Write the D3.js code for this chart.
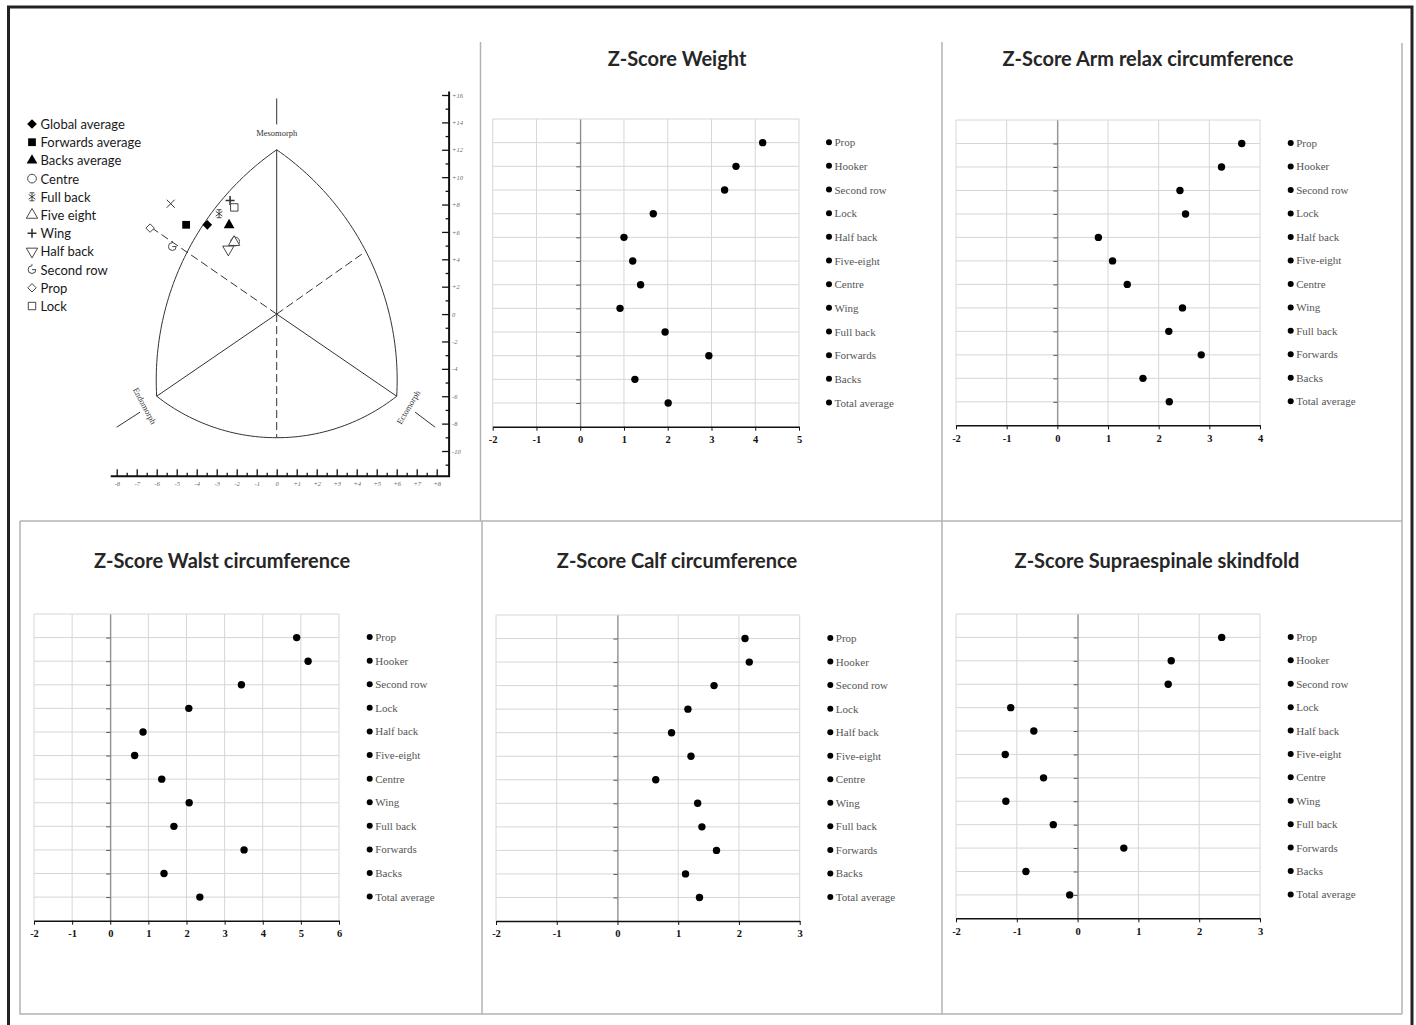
<!DOCTYPE html>
<html>
<head>
<meta charset="utf-8">
<script src="https://cdn.jsdelivr.net/npm/d3@7"></script>
<style>
  body { margin: 0; background: #fff; }
  svg { display: block; }
</style>
</head>
<body>
<script>
// ---------- data ----------
const positions = ["Prop", "Hooker", "Second row", "Lock", "Half back", "Five-eight",
  "Centre", "Wing", "Full back", "Forwards", "Backs", "Total average"];

const weightZ = [4.17, 3.56, 3.30, 1.67, 1.00, 1.20, 1.38, 0.91, 1.94, 2.94, 1.25, 2.01];
const armZ    = [3.64, 3.24, 2.42, 2.53, 0.81, 1.09, 1.38, 2.47, 2.20, 2.84, 1.69, 2.21];
const waistZ  = [4.89, 5.19, 3.44, 2.06, 0.86, 0.64, 1.35, 2.07, 1.67, 3.51, 1.41, 2.35];
const calfZ   = [2.10, 2.17, 1.59, 1.16, 0.89, 1.21, 0.63, 1.32, 1.39, 1.63, 1.12, 1.35];
const supraZ  = [2.37, 1.54, 1.49, -1.10, -0.72, -1.19, -0.56, -1.18, -0.40, 0.76, -0.85, -0.13];

const panelTitles = ["Z-Score Weight", "Z-Score Arm relax circumference", "Z-Score Walst circumference",
  "Z-Score Calf circumference", "Z-Score Supraespinale skindfold"];
const panelDomains = [[-2, 5], [-2, 4], [-2, 6], [-2, 3], [-2, 3]];

// somatochart (x = ecto - endo, y = 2*meso - (endo + ecto))
const somaGroups = ["Global average", "Forwards average", "Backs average", "Centre", "Full back",
  "Five eight", "Wing", "Half back", "Second row", "Prop", "Lock"];
const somaX = [-3.47, -4.53, -2.38, -2.08, -2.88, -2.13, -2.33, -2.42, -5.22, -6.33, -2.12];
const somaY = [6.52, 6.52, 6.50, 5.30, 7.33, 5.25, 8.30, 4.73, 4.93, 6.28, 7.79];
const hookerXY = [-5.30, 8.06];   // drawn with a cross, not listed in the legend
const somaXTicks = d3.range(-8, 9);
const somaYTicks = d3.range(-10, 17, 2);

// ---------- page ----------
const W = 1416, H = 1025;
const svg = d3.select("body").append("svg").attr("width", W).attr("height", H);

// outer frame (open at the bottom) and panel borders
svg.append("path").attr("d", `M8.5,${H} V7 H1412 V${H}`)
  .attr("fill", "none").attr("stroke", "#222").attr("stroke-width", 3);

const border = svg.append("g").attr("stroke", "#b3b3b3").attr("stroke-width", 1.5).attr("fill", "none");
border.append("path").attr("d", "M480.5,42 V521");
border.append("path").attr("d", "M942,42 V1014");
border.append("path").attr("d", "M1402,43 V1014");
border.append("path").attr("d", "M20,521 H1402");
border.append("path").attr("d", "M20,521 V1014 H1402");
border.append("path").attr("d", "M482,521 V1014");

// ---------- dot plot panels ----------
const panelBoxes = [
  { x0: 492.7, x1: 799, y0: 119, y1: 426.7, lx: 829, tx: 677, ty: 58 },
  { x0: 956, x1: 1260, y0: 120, y1: 425.3, lx: 1290.7, tx: 1148, ty: 58 },
  { x0: 34, x1: 339, y0: 614, y1: 920.7, lx: 369.7, tx: 222, ty: 560 },
  { x0: 496, x1: 799.7, y0: 615, y1: 921, lx: 830.3, tx: 677, ty: 560 },
  { x0: 956, x1: 1260, y0: 614, y1: 918.3, lx: 1290.7, tx: 1157, ty: 560 }
];
const panelValues = [weightZ, armZ, waistZ, calfZ, supraZ];

function dotPanel(i) {
  const b = panelBoxes[i], dom = panelDomains[i], vals = panelValues[i];
  const g = svg.append("g");
  const x = d3.scaleLinear().domain(dom).range([b.x0, b.x1]);
  const y = d3.scaleLinear().domain([0, positions.length + 1]).range([b.y0, b.y1]);
  const xt = d3.range(dom[0], dom[1] + 1);

  g.append("text").attr("x", b.tx).attr("y", b.ty).attr("text-anchor", "middle")
    .attr("dominant-baseline", "central")
    .style("font", "bold 20px Lato, 'Open Sans', sans-serif").attr("fill", "#262626")
    .text(panelTitles[i]);

  const grid = g.append("g").attr("stroke", "#d6d6d6").attr("stroke-width", 1);
  grid.selectAll("line.v").data(xt).join("line")
    .attr("x1", d => x(d)).attr("x2", d => x(d)).attr("y1", b.y0).attr("y2", b.y1);
  grid.selectAll("line.h").data(d3.range(0, positions.length + 1)).join("line")
    .attr("x1", b.x0).attr("x2", b.x1).attr("y1", d => y(d)).attr("y2", d => y(d));

  // y axis at zero with small ticks on the left
  const ya = g.append("g").attr("transform", `translate(${x(0)},0)`)
    .call(d3.axisLeft(y).tickValues(d3.range(1, positions.length + 1)).tickSize(4).tickSizeOuter(0).tickFormat(""));
  ya.select(".domain").attr("stroke", "#777");
  ya.selectAll(".tick line").attr("stroke", "#555");

  const xa = g.append("g").attr("transform", `translate(0,${b.y1})`)
    .call(d3.axisBottom(x).tickValues(xt).tickSize(4).tickSizeOuter(0).tickPadding(5).tickFormat(d => String(d)));
  xa.select(".domain").attr("stroke", "#111").attr("stroke-width", 1.5);
  xa.selectAll(".tick line").attr("stroke", "#111");
  xa.selectAll("text").style("font", "bold 10.5px 'Liberation Serif', serif").attr("fill", "#111");

  g.append("g").selectAll("circle").data(vals).join("circle")
    .attr("cx", d => x(d)).attr("cy", (d, k) => y(k + 1)).attr("r", 3.7).attr("fill", "#000");

  const lg = g.append("g").selectAll("g").data(positions).join("g")
    .attr("transform", (d, k) => `translate(${b.lx},${y(k + 1) - 0.5})`);
  lg.append("circle").attr("r", 3).attr("fill", "#000");
  lg.append("text").attr("x", 5.5).attr("dominant-baseline", "central")
    .style("font", "11px 'Liberation Serif', serif").attr("fill", "#555").text(d => d);
}
panelBoxes.forEach((b, i) => dotPanel(i));

// ---------- somatochart ----------
const sx = d3.scaleLinear().domain([-8, 8]).range([116.7, 436.7]);
const sy = d3.scaleLinear().domain([-10, 16]).range([451, 95]);
const soma = svg.append("g");

// axes (right and bottom)
soma.append("path").attr("d", `M${sx(-8.3)},${sy(-11.85)} H${sx(8.62)} V${sy(16.25)}`)
  .attr("fill", "none").attr("stroke", "#111").attr("stroke-width", 2);
const tickFmt = d => d > 0 ? "+" + d : String(d);
soma.append("g").attr("transform", `translate(${sx(8.62)},0)`)
  .call(d3.axisRight(sy).tickValues(somaYTicks).tickSizeInner(-7).tickSizeOuter(0).tickPadding(3).tickFormat(tickFmt));
soma.append("g").attr("transform", `translate(${sx(8.62)},0)`)
  .call(d3.axisRight(sy).tickValues(d3.range(-11, 16, 2)).tickSizeInner(-3.5).tickSizeOuter(0).tickFormat(""));
soma.append("g").attr("transform", `translate(0,${sy(-11.85)})`)
  .call(d3.axisBottom(sx).tickValues(somaXTicks).tickSizeInner(-7).tickSizeOuter(0).tickPadding(5).tickFormat(tickFmt));
soma.append("g").attr("transform", `translate(0,${sy(-11.85)})`)
  .call(d3.axisBottom(sx).tickValues(d3.range(-7.5, 8.5, 1)).tickSizeInner(-3.5).tickSizeOuter(0).tickFormat(""));
soma.selectAll(".domain").remove();
soma.selectAll(".tick line").attr("stroke", "#111").attr("stroke-width", 1.3);
soma.selectAll(".tick text").style("font", "italic 6.5px 'Liberation Serif', serif").attr("fill", "#666");

// frame: three vertices and arcs
const meso = [0, 12], endo = [-6, -6], ecto = [6, -6];
const P = p => [sx(p[0]), sy(p[1])];
function circleArc(a, m, c) {
  const [ax, ay] = P(a), [bx, by] = P(m), [cx, cy] = P(c);
  const d = 2 * (ax * (by - cy) + bx * (cy - ay) + cx * (ay - by));
  const a2 = ax * ax + ay * ay, b2 = bx * bx + by * by, c2 = cx * cx + cy * cy;
  const ux = (a2 * (by - cy) + b2 * (cy - ay) + c2 * (ay - by)) / d;
  const uy = (a2 * (cx - bx) + b2 * (ax - cx) + c2 * (bx - ax)) / d;
  const t0 = Math.atan2(ay - uy, ax - ux), t1 = Math.atan2(by - uy, bx - ux), t2 = Math.atan2(cy - uy, cx - ux);
  const r = Math.hypot(ax - ux, ay - uy);
  const norm = t => (t + 4 * Math.PI) % (2 * Math.PI);
  let span = norm(t2 - t0);
  if (norm(t1 - t0) > span) span = span - 2 * Math.PI;
  return d3.range(0, 61).map(k => {
    const t = t0 + span * k / 60;
    return [ux + r * Math.cos(t), uy + r * Math.sin(t)];
  });
}
const frame = soma.append("g").attr("fill", "none").attr("stroke", "#333").attr("stroke-width", 1);
const line = d3.line();
frame.append("path").attr("d", line(circleArc(meso, [-5.63, 0], endo)));
frame.append("path").attr("d", line(circleArc(meso, [5.63, 0], ecto)));
frame.append("path").attr("d", line(circleArc(endo, [0, -9.03], ecto)));
const solidSegs = [[[0, 0], endo], [[0, 0], ecto], [[0, 0], meso], [[0, 15.75], [0, 13.85]],
  [[-8.0, -8.26], [-6.83, -7.16]], [[6.92, -7.16], [7.92, -8.26]]];
const dashSegs = [[[0, 0], [0, -9.03]], [[0, 0], [-6.25, 6.3]], [[0, 0], [4.33, 4.45]]];
frame.selectAll("path.s").data(solidSegs).join("path").attr("d", s => line(s.map(P)));
frame.selectAll("path.d").data(dashSegs).join("path").attr("d", s => line(s.map(P)))
  .attr("stroke-dasharray", "8,4");

const lbl = "8.5px 'Liberation Serif', serif";
soma.append("text").attr("x", sx(0)).attr("y", sy(13.0)).attr("text-anchor", "middle")
  .style("font", lbl).attr("fill", "#333").text("Mesomorph");
soma.append("text").attr("transform", `translate(${sx(-6.6)},${sy(-6.7)}) rotate(62)`)
  .attr("text-anchor", "middle").attr("dominant-baseline", "central")
  .style("font", lbl).attr("fill", "#333").text("Endomorph");
soma.append("text").attr("transform", `translate(${sx(6.58)},${sy(-6.8)}) rotate(-59)`)
  .attr("text-anchor", "middle").attr("dominant-baseline", "central")
  .style("font", lbl).attr("fill", "#333").text("Ectomorph");

// symbols
const symJ = { draw(c, size) { const r = Math.sqrt(size) / 2;
  c.moveTo(0, -r); c.lineTo(0, r);
  c.moveTo(-r * 0.85, -r * 0.6); c.lineTo(r * 0.85, r * 0.6);
  c.moveTo(-r * 0.85, r * 0.6); c.lineTo(r * 0.85, -r * 0.6);
  c.moveTo(-r * 0.6, -r); c.lineTo(r * 0.6, -r);
  c.moveTo(-r * 0.6, r); c.lineTo(r * 0.6, r); } };
const symG = { draw(c, size) { const r = Math.sqrt(size) / 2;
  c.moveTo(0, -r - 1.5); c.lineTo(0, -r);
  c.arc(0, 0, r, -Math.PI / 2, 0, true); c.lineTo(0, 0); } };
const symPlus = { draw(c, size) { const r = Math.sqrt(size) / 2;
  c.moveTo(-r, 0); c.lineTo(r, 0); c.moveTo(0, -r); c.lineTo(0, r); } };
const symTimes = { draw(c, size) { const r = Math.sqrt(size) / 2;
  c.moveTo(-r, -r); c.lineTo(r, r); c.moveTo(-r, r); c.lineTo(r, -r); } };
const symDiam = d3.symbolDiamond2 || d3.symbolDiamond;
const somaStyle = [
  { t: symDiam, s: 60, fill: true }, { t: d3.symbolSquare, s: 60, fill: true },
  { t: d3.symbolTriangle, s: 50, fill: true }, { t: d3.symbolCircle, s: 60 },
  { t: symJ, s: 64, line: true }, { t: d3.symbolTriangle, s: 55 },
  { t: symPlus, s: 81, line: true, w: 1.6 }, { t: d3.symbolTriangle, s: 55, rot: 180 },
  { t: symG, s: 60, line: true }, { t: symDiam, s: 45 }, { t: d3.symbolSquare, s: 55 }
];
function drawSym(sel, st) {
  sel.append("path").attr("d", d3.symbol(st.t, st.s)())
    .attr("transform", st.rot ? `rotate(${st.rot})` : null)
    .attr("fill", st.fill ? "#000" : (st.line ? "none" : "#fff"))
    .attr("stroke", st.fill ? "none" : "#333").attr("stroke-width", st.w || 0.9);
}
somaGroups.forEach((name, i) => {
  const pt = soma.append("g").attr("transform", `translate(${sx(somaX[i])},${sy(somaY[i])})`);
  drawSym(pt, somaStyle[i]);
});
soma.append("g").attr("transform", `translate(${sx(hookerXY[0])},${sy(hookerXY[1])})`)
  .append("path").attr("d", d3.symbol(symTimes, 64)()).attr("fill", "none")
  .attr("stroke", "#333").attr("stroke-width", 1);

// legend
const leg = soma.append("g").selectAll("g").data(somaGroups).join("g")
  .attr("transform", (d, i) => `translate(32,${124 + i * 18.2})`);
leg.each(function (d, i) { drawSym(d3.select(this), somaStyle[i]); });
leg.append("text").attr("x", 8.5).attr("dominant-baseline", "central")
  .style("font", "13px Lato, 'Open Sans', sans-serif").attr("fill", "#1a1a1a").text(d => d);
</script>
</body>
</html>
